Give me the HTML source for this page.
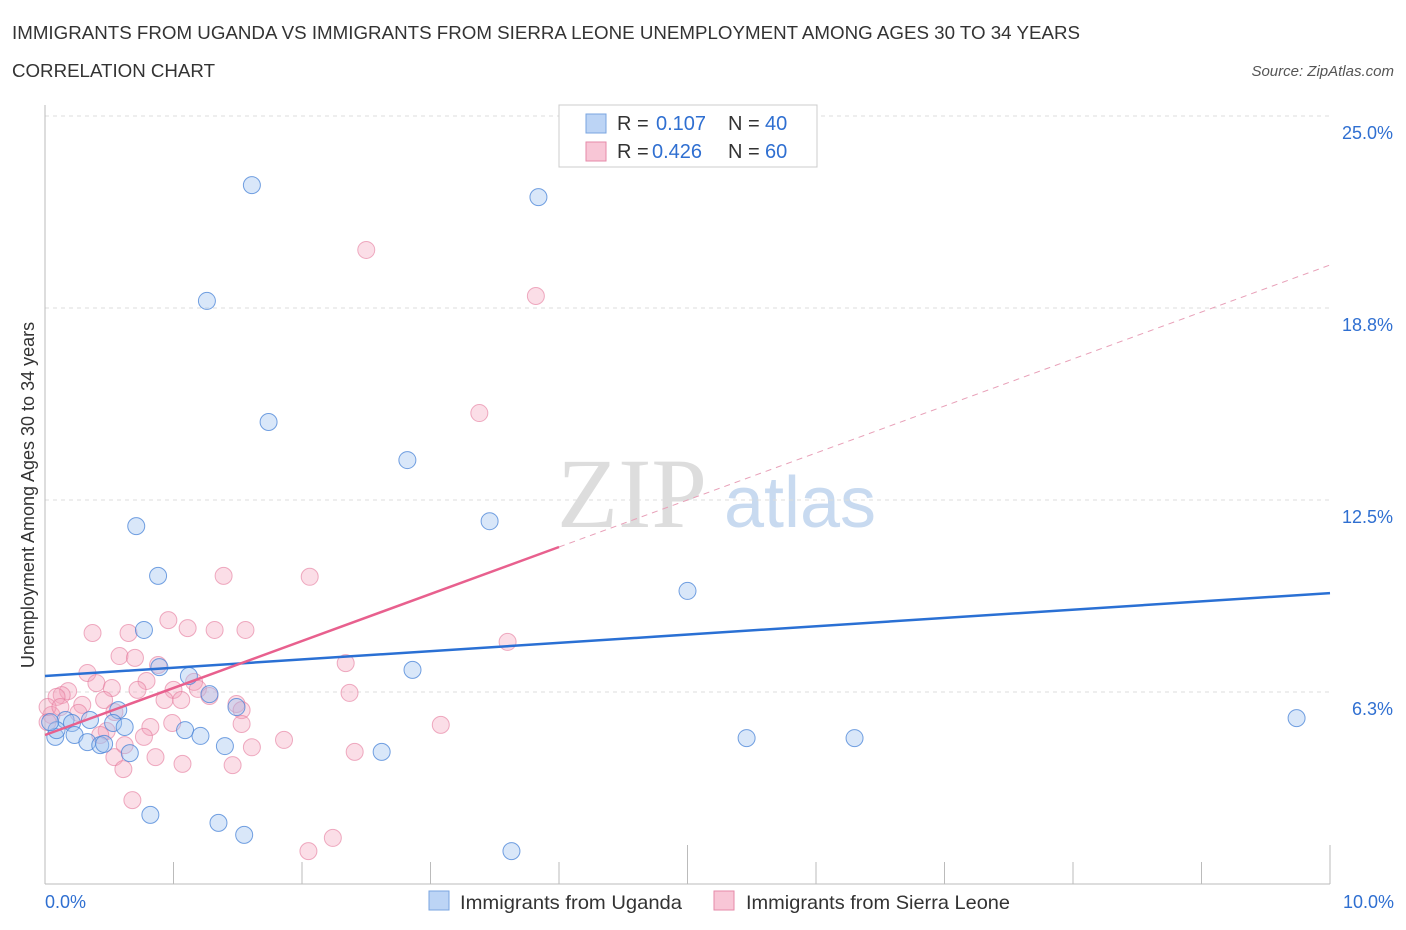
<!DOCTYPE html>
<html><head><meta charset="utf-8"><style>
body{margin:0;background:#fff;width:1406px;height:930px;overflow:hidden;font-family:"Liberation Sans",sans-serif}
svg{position:absolute;left:0;top:0}
</style></head><body>
<svg id="c" width="1406" height="930" xmlns="http://www.w3.org/2000/svg">
<text x="12" y="39" font-size="18" fill="#333" textLength="1068" lengthAdjust="spacingAndGlyphs">IMMIGRANTS FROM UGANDA VS IMMIGRANTS FROM SIERRA LEONE UNEMPLOYMENT AMONG AGES 30 TO 34 YEARS</text>
<text x="12" y="77" font-size="18" fill="#333" textLength="203" lengthAdjust="spacingAndGlyphs">CORRELATION CHART</text>
<text x="1394" y="76" font-size="15" fill="#555" font-style="italic" text-anchor="end">Source: ZipAtlas.com</text>
<text x="34" y="495" font-size="18" fill="#333" text-anchor="middle" transform="rotate(-90 34 495)">Unemployment Among Ages 30 to 34 years</text>
<g><text x="632" y="527" font-size="100" fill="#ddd" font-family="Liberation Serif,serif" text-anchor="middle">ZIP</text><text x="800" y="527" font-size="72" fill="#c8daf0" text-anchor="middle">atlas</text></g>
<g id="grid"></g><g id="axes"></g><g id="pts"></g><g id="lines"></g>
<g>
<rect x="559" y="105" width="258" height="62" fill="#fff" stroke="#ccc"/>
<rect x="586" y="114" width="20" height="19" fill="#bcd4f5" stroke="#7aa5e0"/>
<text y="130" font-size="20" fill="#333"><tspan x="617">R =</tspan><tspan x="656" fill="#2f6fd1">0.107</tspan><tspan x="728">N =</tspan><tspan x="765" fill="#2f6fd1">40</tspan></text>
<rect x="586" y="142" width="20" height="19" fill="#f8c6d6" stroke="#e68aa8"/>
<text y="158" font-size="20" fill="#333"><tspan x="617">R =</tspan><tspan x="652" fill="#2f6fd1">0.426</tspan><tspan x="728">N =</tspan><tspan x="765" fill="#2f6fd1">60</tspan></text>
</g>
<g>
<rect x="429" y="891" width="20" height="19" fill="#bcd4f5" stroke="#7aa5e0"/>
<text x="460" y="909" font-size="19.5" fill="#333" textLength="222" lengthAdjust="spacingAndGlyphs">Immigrants from Uganda</text>
<rect x="714" y="891" width="20" height="19" fill="#f8c6d6" stroke="#e68aa8"/>
<text x="746" y="909" font-size="19.5" fill="#333" textLength="264" lengthAdjust="spacingAndGlyphs">Immigrants from Sierra Leone</text>
</g>
</svg>
<script>
const yTicks=[6.3,12.5,18.8,25.0];
const yTickVals=[6.25,12.5,18.75,25];
const xLabels=["0.0%","10.0%"];
const ugX=[1.61,3.84,1.26,1.74,2.82,3.46,0.71,0.88,5.00,0.77,0.89,1.12,2.86,1.28,1.49,0.57,9.74,0.53,0.62,0.35,0.16,0.21,1.09,1.21,0.23,0.08,0.33,0.43,0.46,1.40,0.66,2.62,5.46,6.30,0.82,1.35,1.55,3.63,0.09,0.04];
const ugY=[22.75,22.36,18.98,15.04,13.80,11.81,11.65,10.03,9.54,8.27,7.06,6.77,6.97,6.18,5.76,5.66,5.40,5.24,5.11,5.34,5.34,5.24,5.01,4.82,4.85,4.79,4.62,4.52,4.56,4.49,4.26,4.30,4.75,4.75,2.25,1.99,1.60,1.07,5.01,5.27];
const slX=[2.50,3.82,3.38,1.39,2.06,0.96,0.37,0.65,1.11,1.32,1.56,3.60,0.58,0.70,0.88,2.34,0.33,0.79,1.16,0.40,0.18,0.52,0.72,1.00,1.19,2.37,1.28,0.13,0.09,0.93,1.06,1.49,0.29,0.26,1.53,0.05,0.46,0.02,0.99,1.53,0.82,0.48,0.43,3.08,0.77,1.86,1.07,1.46,1.61,0.54,0.62,0.86,0.61,2.41,0.68,2.05,2.24,0.02,0.12,0.54];
const slY=[20.64,19.14,15.33,10.03,10.00,8.59,8.17,8.17,8.33,8.27,8.27,7.88,7.42,7.36,7.13,7.19,6.87,6.61,6.58,6.54,6.28,6.38,6.32,6.32,6.35,6.22,6.12,6.15,6.09,5.99,5.99,5.86,5.83,5.57,5.66,5.50,5.99,5.27,5.24,5.21,5.11,4.98,4.85,5.18,4.79,4.69,3.91,3.87,4.45,4.13,4.52,4.13,3.74,4.30,2.73,1.07,1.50,5.76,5.76,5.60];
const ugTrend=[6.77,9.47];
const slTrend=[4.85,1.53];
const NS="http://www.w3.org/2000/svg";
const X=v=>45+v*128.5, Y=v=>884-v*30.72;
function mk(t,a,p){const e=document.createElementNS(NS,t);for(const k in a)e.setAttribute(k,a[k]);p.appendChild(e);return e;}
const grid=document.getElementById('grid'),axes=document.getElementById('axes'),pts=document.getElementById('pts'),lines=document.getElementById('lines');
yTickVals.forEach((v,i)=>{
 const l=mk('line',{x1:45,x2:1330,y1:Y(v),y2:Y(v),stroke:'#ddd','stroke-dasharray':'4,4'},grid);
 
 
 const t=mk('text',{x:1393,y:Y(v)+23,'font-size':18,fill:'#2f6fd1','text-anchor':'end'},axes);
 t.textContent=yTicks[i].toFixed(1)+'%';
 
 
});
const ya=mk('line',{x1:45,x2:45,y1:105,y2:884,stroke:'#bbb'},axes);


const xa=mk('line',{x1:45,x2:1330,y1:884,y2:884,stroke:'#bbb'},axes);


for(let i=0;i<=10;i++){const tk=mk('line',{x1:X(i),x2:X(i),y1:884,y2:i%5==0?845:862,stroke:'#bbb'},axes);
 
 }
[[0,'start',45],[10,'end',1394]].forEach((d,i)=>{const t=mk('text',{x:d[2],y:908,'font-size':18,fill:'#2f6fd1','text-anchor':d[1]},axes);t.textContent=xLabels[i];
 
 });
slX.forEach((x,i)=>{const c=mk('circle',{cx:X(x),cy:Y(slY[i]),r:8.5,fill:'rgba(244,160,186,0.35)',stroke:'rgba(228,120,155,0.6)','stroke-width':1},pts);
 
 });
ugX.forEach((x,i)=>{const c=mk('circle',{cx:X(x),cy:Y(ugY[i]),r:8.5,fill:'rgba(160,195,240,0.4)',stroke:'rgba(70,130,215,0.75)','stroke-width':1},pts);
 
 });
const bl=mk('line',{x1:X(0),y1:Y(ugTrend[0]),x2:X(10),y2:Y(ugTrend[1]),stroke:'#2a70d4','stroke-width':2.5},lines);


const pl=mk('line',{x1:X(0),y1:Y(slTrend[0]),x2:X(4),y2:Y(slTrend[0]+4*slTrend[1]),stroke:'#e8608e','stroke-width':2.5},lines);


const pd=mk('line',{x1:X(4),y1:Y(slTrend[0]+4*slTrend[1]),x2:X(10),y2:Y(slTrend[0]+10*slTrend[1]),stroke:'#e8a0b8','stroke-width':1,'stroke-dasharray':'6,5'},lines);


</script>
</body></html>
